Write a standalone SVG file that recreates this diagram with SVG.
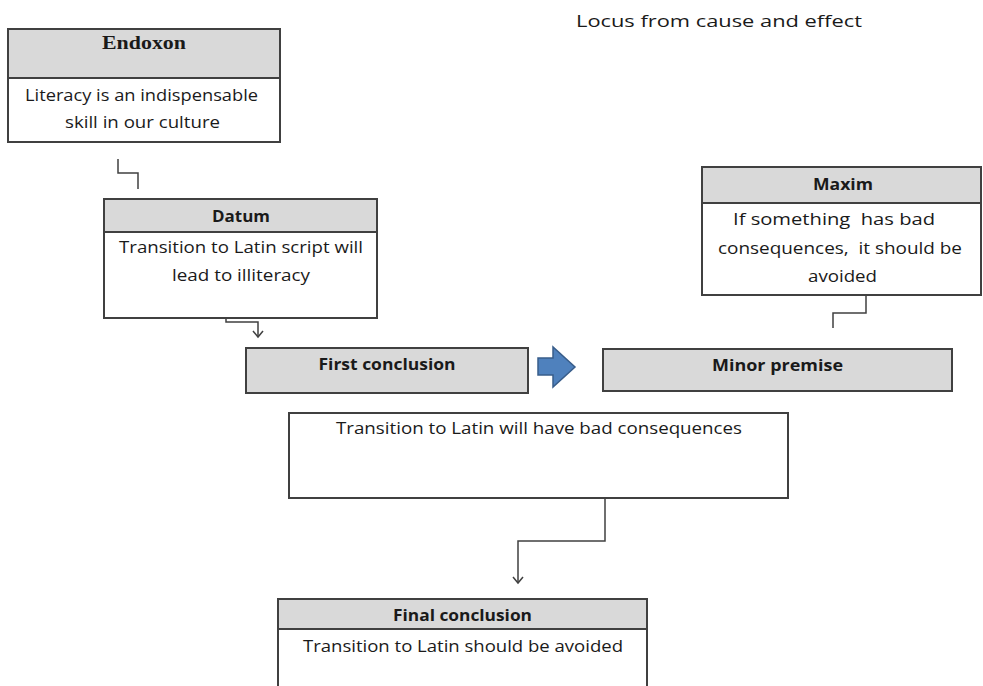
<svg xmlns="http://www.w3.org/2000/svg" width="983" height="686" viewBox="0 0 983 686">
<style>
.box{fill:#ffffff;stroke:#404040;stroke-width:2}
.hdr{fill:#d9d9d9;stroke:#404040;stroke-width:2}
.t{font-family:"Open Sans","Liberation Sans",sans-serif;font-size:16px;fill:#1a1a1a;text-anchor:middle}
.b{font-weight:bold}
.ser{font-family:"Liberation Serif","Times New Roman",serif;font-size:19px;font-weight:bold;fill:#1a1a1a;text-anchor:middle}
.con{fill:none;stroke:#404040;stroke-width:1.5}
</style>
<defs>
<marker id="arr" markerWidth="12" markerHeight="12" refX="10" refY="6" orient="auto" markerUnits="userSpaceOnUse" viewBox="0 0 12 12">
<path d="M4,1 L10,6 L4,11" fill="none" stroke="#404040" stroke-width="1.5"/>
</marker>
</defs>
<rect width="983" height="686" fill="#ffffff"/>
<text id="title" class="t" x="719" y="27" font-size="18" fill="#111" textLength="286" lengthAdjust="spacingAndGlyphs">Locus from cause and effect</text>

<g id="connectors">
<polyline class="con" points="118,159 118,173 138,173 138,189"/>
<polyline class="con" points="226,307 226,322 258,322 258,337" marker-end="url(#arr)"/>
<polyline class="con" points="866,296 866,313 833,313 833,328"/>
<polyline class="con" points="605,498 605,541 518,541 518,583" marker-end="url(#arr)"/>
<path id="blockarrow" d="M538,358 L553,358 L553,347 L575,367 L553,387 L553,375 L538,375 Z" fill="#4f81bd" stroke="#385d8a" stroke-width="1.5"/>
</g>

<g id="endoxon">
<rect class="box" x="8" y="29" width="272" height="113"/>
<rect class="hdr" x="8" y="29" width="272" height="49"/>
<text class="ser" x="144" y="49" textLength="84" lengthAdjust="spacingAndGlyphs">Endoxon</text>
<text class="t" x="141.5" y="101" textLength="233" lengthAdjust="spacingAndGlyphs">Literacy is an indispensable</text>
<text class="t" x="142.5" y="128" textLength="155" lengthAdjust="spacingAndGlyphs">skill in our culture</text>
</g>

<g id="datum">
<rect class="box" x="104" y="199" width="273" height="119"/>
<rect class="hdr" x="104" y="199" width="273" height="33"/>
<text class="t b" x="241" y="222" textLength="58" lengthAdjust="spacingAndGlyphs">Datum</text>
<text class="t" x="241" y="253" textLength="244" lengthAdjust="spacingAndGlyphs">Transition to Latin script will</text>
<text class="t" x="241" y="281" textLength="138" lengthAdjust="spacingAndGlyphs">lead to illiteracy</text>
</g>

<g id="first-conclusion">
<rect class="hdr" x="246" y="348" width="282" height="45"/>
<text class="t b" x="387" y="370" textLength="137" lengthAdjust="spacingAndGlyphs">First conclusion</text>
</g>

<g id="maxim">
<rect class="box" x="702" y="167" width="279" height="128"/>
<rect class="hdr" x="702" y="167" width="279" height="36"/>
<text class="t b" x="843" y="190" textLength="60" lengthAdjust="spacingAndGlyphs">Maxim</text>
<text class="t" x="834" y="225" textLength="202" lengthAdjust="spacingAndGlyphs" xml:space="preserve">If something  has bad</text>
<text class="t" x="840" y="254" textLength="244" lengthAdjust="spacingAndGlyphs" xml:space="preserve">consequences,  it should be</text>
<text class="t" x="842.5" y="282" textLength="69" lengthAdjust="spacingAndGlyphs">avoided</text>
</g>

<g id="minor-premise">
<rect class="hdr" x="603" y="349" width="349" height="42"/>
<text class="t b" x="777.5" y="371" textLength="131" lengthAdjust="spacingAndGlyphs">Minor premise</text>
</g>

<g id="consequence">
<rect class="box" x="289" y="413" width="499" height="85"/>
<text class="t" x="539" y="434" textLength="406" lengthAdjust="spacingAndGlyphs">Transition to Latin will have bad consequences</text>
</g>

<g id="final-conclusion">
<rect class="box" x="278" y="599" width="369" height="110"/>
<rect class="hdr" x="278" y="599" width="369" height="30"/>
<text class="t b" x="462.5" y="621" textLength="139" lengthAdjust="spacingAndGlyphs">Final conclusion</text>
<text class="t" x="463" y="652" textLength="320" lengthAdjust="spacingAndGlyphs">Transition to Latin should be avoided</text>
</g>
</svg>
